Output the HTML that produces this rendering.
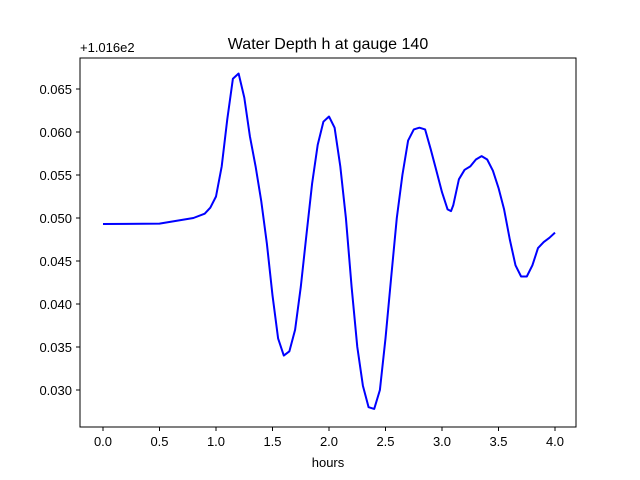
<!DOCTYPE html>
<html><head><meta charset="utf-8"><style>body{margin:0;background:#fff}svg{display:block;font-family:"Liberation Sans","DejaVu Sans",sans-serif}</style></head>
<body>
<svg id="chart" width="640" height="480" xmlns="http://www.w3.org/2000/svg">
<rect width="640" height="480" fill="#fff"/>
<text x="328" y="49" text-anchor="middle" font-size="16">Water Depth h at gauge 140</text>
<text x="80" y="52" font-size="13">+1.016e2</text>
<text x="328" y="467" text-anchor="middle" font-size="13">hours</text>
<g id="ticks"></g>
<polyline id="series" fill="none" stroke="#0000ff" stroke-width="2" stroke-linejoin="round"/>
<rect x="80" y="58" width="496" height="369" fill="none" stroke="#000" stroke-width="1"/>
</svg>
<script>
const times=[0,0.5,0.8,0.9,0.95,1.0,1.05,1.1,1.15,1.2,1.25,1.3,1.35,1.4,1.45,1.5,1.55,1.6,1.65,1.7,1.75,1.8,1.85,1.9,1.95,2.0,2.05,2.1,2.15,2.2,2.25,2.3,2.35,2.4,2.45,2.5,2.55,2.6,2.65,2.7,2.75,2.8,2.85,2.9,2.95,3.0,3.05,3.08,3.1,3.15,3.2,3.25,3.3,3.35,3.4,3.45,3.5,3.55,3.6,3.65,3.7,3.75,3.8,3.85,3.9,3.95,4.0];
const depths=[0.0493,0.04935,0.0500,0.0505,0.0512,0.0525,0.056,0.0615,0.0662,0.0668,0.064,0.0595,0.056,0.052,0.047,0.041,0.036,0.034,0.0345,0.037,0.042,0.048,0.054,0.0585,0.0612,0.0618,0.0605,0.056,0.050,0.042,0.035,0.0305,0.028,0.0278,0.030,0.036,0.043,0.050,0.055,0.059,0.0603,0.0605,0.0603,0.058,0.0555,0.053,0.051,0.0508,0.0515,0.0545,0.0556,0.056,0.0568,0.0572,0.0568,0.0555,0.0535,0.051,0.0475,0.0445,0.0432,0.0432,0.0445,0.0465,0.0472,0.0477,0.0483];
const xTicks=[0,0.5,1.0,1.5,2.0,2.5,3.0,3.5,4.0];
const yTicks=[0.030,0.035,0.040,0.045,0.050,0.055,0.060,0.065];
const xS=v=>103+v*113;
const yS=v=>390-(v-0.030)/0.005*43;
const NS="http://www.w3.org/2000/svg";
document.getElementById('series').setAttribute('points',times.map((t,i)=>xS(t).toFixed(1)+','+yS(depths[i]).toFixed(1)).join(' '));
const g=document.getElementById('ticks');
xTicks.forEach(v=>{
 const l=document.createElementNS(NS,'line');
 
 
 l.setAttribute('x1',xS(v));l.setAttribute('x2',xS(v));l.setAttribute('y1',427);l.setAttribute('y2',431);l.setAttribute('stroke','#000');g.appendChild(l);
 const t=document.createElementNS(NS,'text');
 
 
 t.setAttribute('x',xS(v));t.setAttribute('y',446);t.setAttribute('text-anchor','middle');t.setAttribute('font-size','13');t.textContent=v.toFixed(1);g.appendChild(t);
});
yTicks.forEach(v=>{
 const l=document.createElementNS(NS,'line');
 
 
 l.setAttribute('x1',76);l.setAttribute('x2',80);l.setAttribute('y1',yS(v));l.setAttribute('y2',yS(v));l.setAttribute('stroke','#000');g.appendChild(l);
 const t=document.createElementNS(NS,'text');
 
 
 t.setAttribute('x',72);t.setAttribute('y',yS(v)+5);t.setAttribute('text-anchor','end');t.setAttribute('font-size','13');t.textContent=v.toFixed(3);g.appendChild(t);
});
</script>
</body></html>
